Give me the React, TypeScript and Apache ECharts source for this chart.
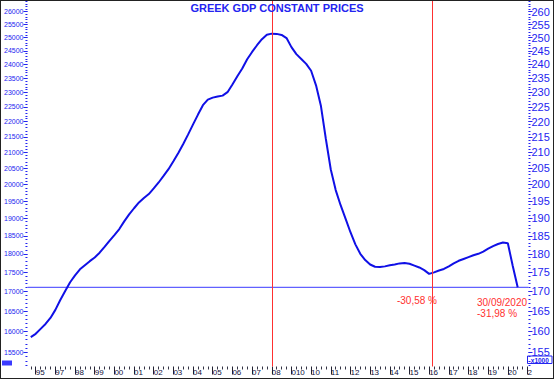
import React, { useEffect, useRef } from "react";
import * as echarts from "echarts";

// ---- data ----
const START_YEAR = 1995;
const START_QUARTER = 4; // first point: Q4 1995, last: Q3 2020
const gdpValues = [
  15860, 15940, 16060, 16180, 16330, 16530, 16780, 17010, 17240, 17420,
  17580, 17690, 17800, 17900, 18030, 18190, 18360, 18520, 18690, 18910,
  19110, 19290, 19460, 19590, 19710, 19880, 20060, 20260, 20470, 20720,
  20980, 21270, 21580, 21910, 22240, 22560, 22750, 22820, 22860, 22890,
  23010, 23280, 23570, 23850, 24190, 24460, 24710, 24940, 25110, 25150,
  25140, 25100, 24980, 24640, 24380, 24200, 24020, 23770, 23250, 22530,
  21430, 20460, 19830, 19380, 18990, 18600, 18260, 18000, 17830, 17710,
  17650, 17640, 17660, 17690, 17710, 17740, 17750, 17730, 17680, 17630,
  17560, 17460, 17500, 17550, 17590, 17660, 17740, 17810, 17860, 17910,
  17960, 18000, 18060, 18140, 18210, 18270, 18310, 18290, 17670, 17107,
];
const lastValue = 17107;
const markerDates = [2008.0, 2016.17];

const xTickYears = [
  1996, 1997, 1998, 1999, 2000, 2001, 2002, 2003, 2004, 2005, 2006, 2007, 2008,
  2009, 2010, 2011, 2012, 2013, 2014, 2015, 2016, 2017, 2018, 2019, 2020, 2021,
];
const xTickLabels = [
  "95", "97", "98", "99", "00", "01", "02", "03", "04", "05", "06", "07", "08",
  "010", "10", "11", "12", "13", "14", "15", "16", "17", "18", "19", "20", "2",
];
const leftTickValues = [
  15500, 16000, 16500, 17000, 17500, 18000, 18500, 19000, 19500, 20000, 20500,
  21000, 21500, 22000, 22500, 23000, 23500, 24000, 24500, 25000, 25500, 26000,
];
const rightTickLabels = [
  155, 160, 165, 170, 175, 180, 185, 190, 195, 200, 205,
  210, 215, 220, 225, 230, 235, 240, 245, 250, 255, 260,
];
const titleText = "GREEK GDP CONSTANT PRICES";
const dropText = "-30,58 %";
const dateText = "30/09/2020";
const lastDropText = "-31,98 %";

const Y_MIN = 15168;
const Y_MAX = 26428;
const X_MIN = 1995.582;
const X_MAX = 2021.05;

const BLUE = "#2424f0";
const LINE_BLUE = "#1010e6";
const HLINE_BLUE = "#3a3aff";
const RED = "#ff3030";
const FONT = "'Liberation Sans', Arial, sans-serif";

export default function App() {
  const ref = useRef<HTMLDivElement>(null);

  useEffect(() => {
    if (!ref.current) return;
    const chart = echarts.init(ref.current, undefined, { renderer: "svg" });

    const seriesData = gdpValues.map((v, i) => [
      START_YEAR + (START_QUARTER - 1) / 4 + i / 4,
      Math.log(v),
    ]);
    const lastLineData = [
      [X_MIN, Math.log(lastValue)],
      [X_MAX, Math.log(lastValue)],
    ];

    const majorY = leftTickValues.map((v) => Math.log(v));
    const minorY: number[] = [];
    for (let v = 15200; v <= 26400; v += 100) minorY.push(Math.log(v));
    const minorX: number[] = [];
    for (let q = 1995.75; q < X_MAX; q += 0.25) {
      if (Math.abs(q - Math.round(q)) > 0.01) minorX.push(q);
    }

    const yBase = {
      type: "value" as const,
      min: Math.log(Y_MIN),
      max: Math.log(Y_MAX),
      splitLine: { show: false },
      axisLine: { show: false },
    };

    const xBase = {
      type: "value" as const,
      min: X_MIN,
      max: X_MAX,
      position: "bottom" as const,
      splitLine: { show: false },
      axisLine: { show: false, onZero: false },
    };

    chart.setOption({
      animation: false,
      backgroundColor: "#ffffff",
      title: {
        text: titleText,
        left: "center",
        top: 1,
        padding: 0,
        textStyle: { fontSize: 11, fontWeight: "bold", color: BLUE, fontFamily: FONT },
      },
      grid: { left: 24, right: 24.5, top: 0, bottom: 11.5, containLabel: false },
      xAxis: [
        {
          ...xBase,
          axisTick: {
            show: true,
            customValues: xTickYears,
            length: 8,
            lineStyle: { color: "#222233", width: 1 },
          },
          axisLabel: {
            show: true,
            customValues: xTickYears,
            formatter: (v: number) => {
              const idx = xTickYears.indexOf(Math.round(v));
              return idx >= 0 ? xTickLabels[idx] : "";
            },
            fontSize: 8,
            color: "#10103a",
            fontFamily: FONT,
            align: "left",
            margin: 2,
            padding: 0,
            hideOverlap: false,
          },
        },
        {
          ...xBase,
          axisTick: {
            show: true,
            customValues: minorX,
            length: 3,
            lineStyle: { color: "#333344", width: 1 },
          },
          axisLabel: { show: false },
        },
      ],
      yAxis: [
        {
          ...yBase,
          position: "left",
          axisTick: {
            show: true,
            customValues: majorY,
            length: 4,
            lineStyle: { color: BLUE, width: 1 },
          },
          axisLabel: {
            show: true,
            customValues: majorY,
            formatter: (v: number) => String(Math.round(Math.exp(v))),
            fontSize: 7,
            color: BLUE,
            fontFamily: FONT,
            margin: 4,
          },
        },
        {
          ...yBase,
          position: "left",
          axisTick: {
            show: true,
            customValues: minorY,
            length: 2,
            lineStyle: { color: BLUE, width: 1 },
          },
          axisLabel: { show: false },
        },
        {
          ...yBase,
          position: "right",
          axisTick: {
            show: true,
            customValues: majorY,
            length: 4,
            lineStyle: { color: BLUE, width: 1 },
          },
          axisLabel: {
            show: true,
            customValues: majorY,
            formatter: (v: number) => {
              const idx = majorY.findIndex((m) => Math.abs(m - v) < 1e-9);
              return idx >= 0 ? String(rightTickLabels[idx]) : "";
            },
            fontSize: 11,
            color: BLUE,
            fontFamily: FONT,
            margin: 3,
          },
        },
        {
          ...yBase,
          position: "right",
          axisTick: {
            show: true,
            customValues: minorY,
            length: 2,
            lineStyle: { color: BLUE, width: 1 },
          },
          axisLabel: { show: false },
        },
      ],
      series: [
        {
          type: "line",
          name: "last",
          xAxisIndex: 0,
          yAxisIndex: 0,
          data: lastLineData,
          showSymbol: false,
          symbol: "none",
          silent: true,
          lineStyle: { color: HLINE_BLUE, width: 1 },
          z: 2,
        },
        {
          type: "line",
          name: "gdp",
          xAxisIndex: 0,
          yAxisIndex: 0,
          data: seriesData,
          showSymbol: false,
          symbol: "none",
          lineStyle: { color: LINE_BLUE, width: 2 },
          z: 3,
          markLine: {
            silent: true,
            symbol: "none",
            label: { show: false },
            emphasis: { disabled: true },
            data: markerDates.map((d) => ({
              xAxis: d,
              lineStyle: { color: RED, width: 1, type: "solid" as const },
            })),
          },
        },
      ],
      graphic: [
        {
          type: "text",
          x: 436,
          y: 299.7,
          style: {
            text: dropText,
            fill: RED,
            font: `10px ${FONT}`,
            align: "right",
            verticalAlign: "middle",
            textAlign: "right",
            textVerticalAlign: "middle",
          },
        },
        {
          type: "text",
          x: 476,
          y: 301.3,
          style: {
            text: dateText,
            fill: RED,
            font: `10px ${FONT}`,
            align: "left",
            verticalAlign: "middle",
            textAlign: "left",
            textVerticalAlign: "middle",
          },
        },
        {
          type: "text",
          x: 476,
          y: 312.3,
          style: {
            text: lastDropText,
            fill: RED,
            font: `10px ${FONT}`,
            align: "left",
            verticalAlign: "middle",
            textAlign: "left",
            textVerticalAlign: "middle",
          },
        },
        {
          type: "rect",
          shape: { x: 526.5, y: 355, width: 24.5, height: 7.5 },
          style: { fill: "#ffffff", stroke: BLUE, lineWidth: 1 },
        },
        {
          type: "text",
          x: 538.8,
          y: 359.2,
          style: {
            text: "x1000",
            fill: BLUE,
            font: `bold 6.5px ${FONT}`,
            align: "center",
            verticalAlign: "middle",
            textAlign: "center",
            textVerticalAlign: "middle",
          },
        },
        {
          type: "rect",
          shape: { x: 1, y: 359.5, width: 10, height: 5 },
          style: { fill: "#3a3aff" },
        },
      ],
    });

    return () => chart.dispose();
  }, []);

  return (
    <div
      style={{
        position: "absolute",
        left: 0,
        top: 0,
        width: 554,
        height: 379,
        boxSizing: "border-box",
        border: "1px solid #222",
        background: "#fff",
      }}
    >
      <div ref={ref} style={{ width: 552, height: 377 }} />
    </div>
  );
}
